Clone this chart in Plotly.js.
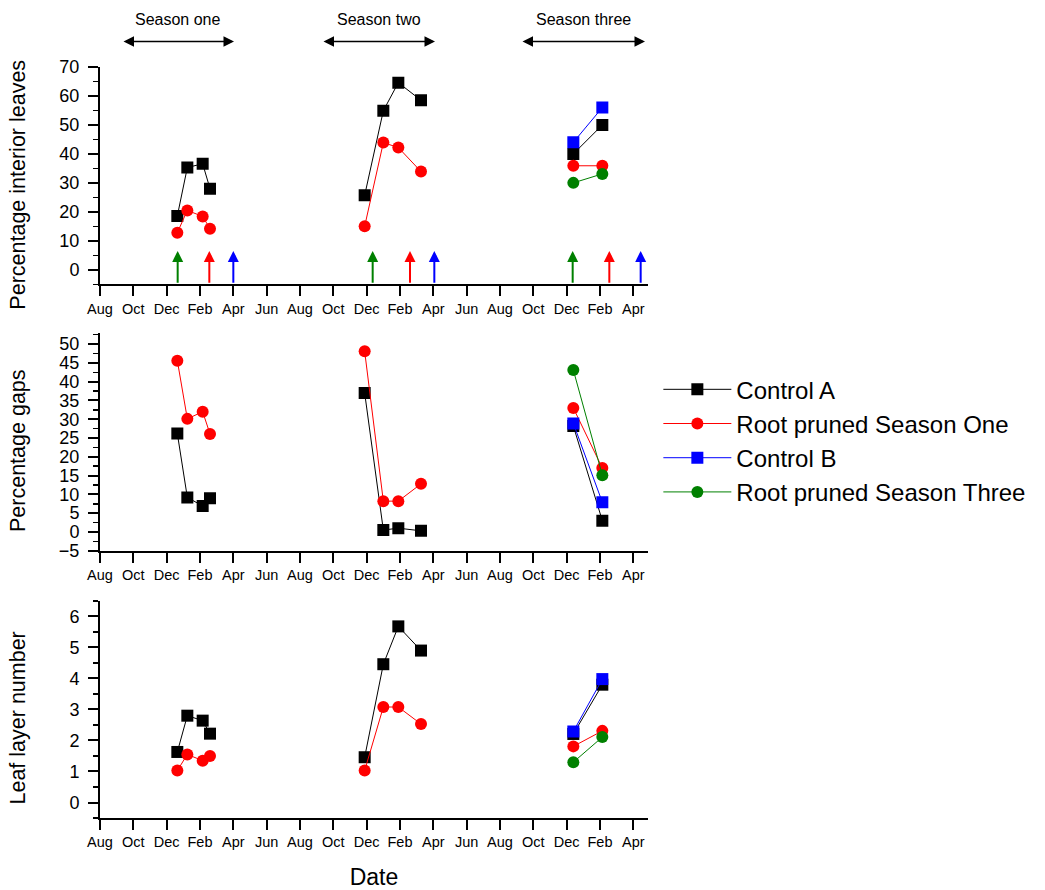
<!DOCTYPE html>
<html><head><meta charset="utf-8">
<script src="https://cdn.plot.ly/plotly-3.0.1.min.js"></script>
<style>html,body{margin:0;padding:0;background:#fff}#chart{width:1045px;height:890px}</style>
</head><body><div id="chart"></div>
<script>
// month index: 0 = August of the first year
const monthTickVals = [0,2,4,6,8,10,12,14,16,18,20,22,24,26,28,30,32];
const monthTickText = ['Aug','Oct','Dec','Feb','Apr','Jun','Aug','Oct','Dec','Feb','Apr','Jun','Aug','Oct','Dec','Feb','Apr'];

const xSeason1 = [4.64, 5.24, 6.16, 6.6];
const xSeason2 = [15.88, 17.0, 17.9, 19.26];
const xSeason3 = [28.4, 30.14];

const seriesNames = ['Control A', 'Root pruned Season One', 'Control B', 'Root pruned Season Three'];
const seriesColors = ['#000000', '#ff0000', '#0000ff', '#008000'];
const seriesSymbols = ['square', 'circle', 'square', 'circle'];

// Percentage interior leaves
const interiorControlA = {s1: [18.6, 35.3, 36.6, 28.0], s2: [25.7, 54.9, 64.6, 58.5], s3: [40.0, 50.0]};
const interiorRootOne  = {s1: [12.8, 20.5, 18.4, 14.2], s2: [15.0, 43.9, 42.2, 33.9], s3: [35.9, 35.9]};
const interiorControlB = {s3: [44.0, 56.0]};
const interiorRootThree = {s3: [30.0, 33.1]};

// Percentage gaps
const gapsControlA = {s1: [26.2, 9.2, 6.9, 9.0], s2: [37.0, 0.5, 1.0, 0.3], s3: [28.2, 3.0]};
const gapsRootOne  = {s1: [45.6, 30.1, 32.0, 26.1], s2: [48.1, 8.2, 8.2, 12.8], s3: [33.0, 17.0]};
const gapsControlB = {s3: [28.9, 7.9]};
const gapsRootThree = {s3: [43.1, 15.1]};

// Leaf layer number
const layerControlA = {s1: [1.63, 2.80, 2.64, 2.22], s2: [1.46, 4.46, 5.68, 4.90], s3: [2.21, 3.80]};
const layerRootOne  = {s1: [1.03, 1.55, 1.35, 1.50], s2: [1.03, 3.08, 3.08, 2.53], s3: [1.81, 2.31]};
const layerControlB = {s3: [2.29, 3.98]};
const layerRootThree = {s3: [1.30, 2.11]};

// treatment event arrows (top panel)
const eventMonths = [4.66, 6.56, 8.0, 16.36, 18.6, 20.06, 28.36, 30.56, 32.44];
const eventColors = ['#008000', '#ff0000', '#0000ff', '#008000', '#ff0000', '#0000ff', '#008000', '#ff0000', '#0000ff'];
const eventTop = 6.5, eventBase = -5;

// season spans
const seasonLabels = ['Season one', 'Season two', 'Season three'];
const seasonStart = [1.32, 13.32, 25.26];
const seasonEnd = [8.04, 20.1, 32.7];

// y axis titles
const yTitles = ['Percentage interior leaves', 'Percentage gaps', 'Leaf layer number'];

const FONT = 'Arial, "Liberation Sans", sans-serif';

function build(d) {
  let xs = [], ys = [];
  const parts = [['s1', xSeason1], ['s2', xSeason2], ['s3', xSeason3]];
  parts.forEach(([k, xv]) => {
    if (d[k]) {
      if (xs.length) { xs.push(null); ys.push(null); }
      xs = xs.concat(xv); ys = ys.concat(d[k]);
    }
  });
  return {x: xs, y: ys};
}

const domains = [[0.7107, 1], [0.3559, 0.6455], [0, 0.289]];

const panels = [
  {data: [interiorControlA, interiorRootOne, interiorControlB, interiorRootThree], xa: 'x', ya: 'y'},
  {data: [gapsControlA, gapsRootOne, gapsControlB, gapsRootThree], xa: 'x2', ya: 'y2'},
  {data: [layerControlA, layerRootOne, layerControlB, layerRootThree], xa: 'x3', ya: 'y3'}
];

const traces = [];
panels.forEach((p, pi) => {
  p.data.forEach((d, si) => {
    const b = build(d);
    traces.push({
      type: 'scatter', mode: 'lines+markers', x: b.x, y: b.y,
      xaxis: p.xa, yaxis: p.ya, name: seriesNames[si], legendgroup: seriesNames[si],
      showlegend: pi === 0, connectgaps: false,
      line: {color: seriesColors[si], width: 1},
      marker: {color: seriesColors[si], symbol: seriesSymbols[si], size: 12, line: {width: 0}}
    });
  });
});

const xBase = {
  range: [0, 32.88], tickmode: 'array', tickvals: monthTickVals, ticktext: monthTickText,
  ticks: 'outside', ticklen: 10, tickwidth: 2, tickcolor: '#000',
  showline: true, linewidth: 2, linecolor: '#000', showgrid: false, zeroline: false,
  tickfont: {family: FONT, size: 14.5, color: '#000'}, domain: [0, 1], fixedrange: true
};
function yBase(o) {
  return Object.assign({
    ticks: 'outside', ticklen: 10, tickwidth: 2, tickcolor: '#000',
    showline: true, linewidth: 2, linecolor: '#000', showgrid: false, zeroline: false,
    tickfont: {family: FONT, size: 18, color: '#000'}, tickmode: 'linear', fixedrange: true,
    ticklabelstandoff: 5
  }, o);
}

const annotations = [];
eventMonths.forEach((m, i) => {
  annotations.push({
    xref: 'x', yref: 'y', axref: 'x', ayref: 'y', x: m, y: eventTop, ax: m, ay: eventBase,
    text: '', showarrow: true, arrowhead: 2, arrowsize: 1.1, arrowwidth: 2, arrowcolor: eventColors[i], standoff: 0
  });
});
seasonLabels.forEach((lab, i) => {
  annotations.push({
    xref: 'x', yref: 'paper', axref: 'x', ayref: 'pixel', x: seasonEnd[i], y: 1.034, ax: seasonStart[i], ay: 0,
    text: '', showarrow: true, arrowside: 'end+start', arrowhead: 2, arrowsize: 1.4, arrowwidth: 1.5, arrowcolor: '#000', standoff: 0, startstandoff: 0
  });
  annotations.push({
    xref: 'x', yref: 'paper', x: (seasonStart[i] + seasonEnd[i]) / 2, y: 1.0635, yanchor: 'middle',
    text: lab, showarrow: false, font: {family: FONT, size: 16, color: '#000'}
  });
});
yTitles.forEach((t, i) => {
  annotations.push({
    xref: 'paper', yref: 'paper', x: -0.1496, y: (domains[i][0] + domains[i][1]) / 2 - 0.012,
    xanchor: 'center', yanchor: 'middle', textangle: -90, showarrow: false,
    text: t, font: {family: FONT, size: 21.5, color: '#000'}
  });
});

const layout = {
  width: 1045, height: 890,
  margin: {l: 100, r: 397, t: 67, b: 72},
  paper_bgcolor: '#fff', plot_bgcolor: '#fff',
  font: {family: FONT, color: '#000'},
  showlegend: true,
  legend: {
    xref: 'container', yref: 'container', x: 0.630, y: 0.5874, xanchor: 'left', yanchor: 'top',
    font: {family: FONT, size: 24, color: '#000'}, bgcolor: 'rgba(0,0,0,0)', tracegroupgap: 0, itemwidth: 68
  },
  xaxis: Object.assign({}, xBase, {anchor: 'y'}),
  xaxis2: Object.assign({}, xBase, {anchor: 'y2'}),
  xaxis3: Object.assign({}, xBase, {anchor: 'y3',
    title: {text: 'Date', font: {family: FONT, size: 23, color: '#000'}, standoff: 20}}),
  yaxis: yBase({anchor: 'x', domain: domains[0], range: [-5, 70], tick0: 0, dtick: 10,
    minor: {dtick: 5, ticks: 'outside', ticklen: 5, tickwidth: 1.5, tickcolor: '#000'}}),
  yaxis2: yBase({anchor: 'x2', domain: domains[1], range: [-5, 52.9], tick0: -5, dtick: 5,
    minor: {dtick: 2.5, ticks: 'outside', ticklen: 5, tickwidth: 1.5, tickcolor: '#000'}}),
  yaxis3: yBase({anchor: 'x3', domain: domains[2], range: [-0.5, 6.5], tick0: 0, dtick: 1,
    minor: {dtick: 0.5, ticks: 'outside', ticklen: 5, tickwidth: 1.5, tickcolor: '#000'}}),
  annotations: annotations
};

Plotly.newPlot('chart', traces, layout, {displayModeBar: false, staticPlot: true});
</script>
</body></html>
